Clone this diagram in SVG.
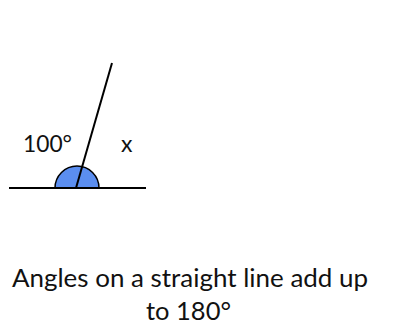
<svg xmlns="http://www.w3.org/2000/svg" width="407" height="325" viewBox="0 0 407 325">
<style>
.t{font-family:Lato,"Open Sans","Liberation Sans",sans-serif;fill:#111}
.ln{stroke:#000;stroke-width:2;fill:none}
</style>
<rect width="407" height="325" fill="#fff"/>
<g id="angle-arc"><path d="M55,188 A22,22 0 0 1 99,188 Z" fill="#5b8ef0" stroke="#000" stroke-width="1.5"/></g>
<g id="connectors">
<line class="ln" x1="9" y1="188" x2="146" y2="188"/>
<line class="ln" x1="76" y1="188" x2="112" y2="63"/>
</g>
<g id="label-100"><text class="t" x="23" y="152" font-size="23" textLength="49" lengthAdjust="spacingAndGlyphs">100°</text></g>
<g id="label-x"><text class="t" x="121" y="152" font-size="23">x</text></g>
<g id="caption">
<text class="t" x="12" y="287" font-size="25" textLength="356" lengthAdjust="spacingAndGlyphs">Angles on a straight line add up</text>
<text class="t" x="146" y="320" font-size="25" textLength="85" lengthAdjust="spacingAndGlyphs">to 180°</text>
</g>
</svg>
